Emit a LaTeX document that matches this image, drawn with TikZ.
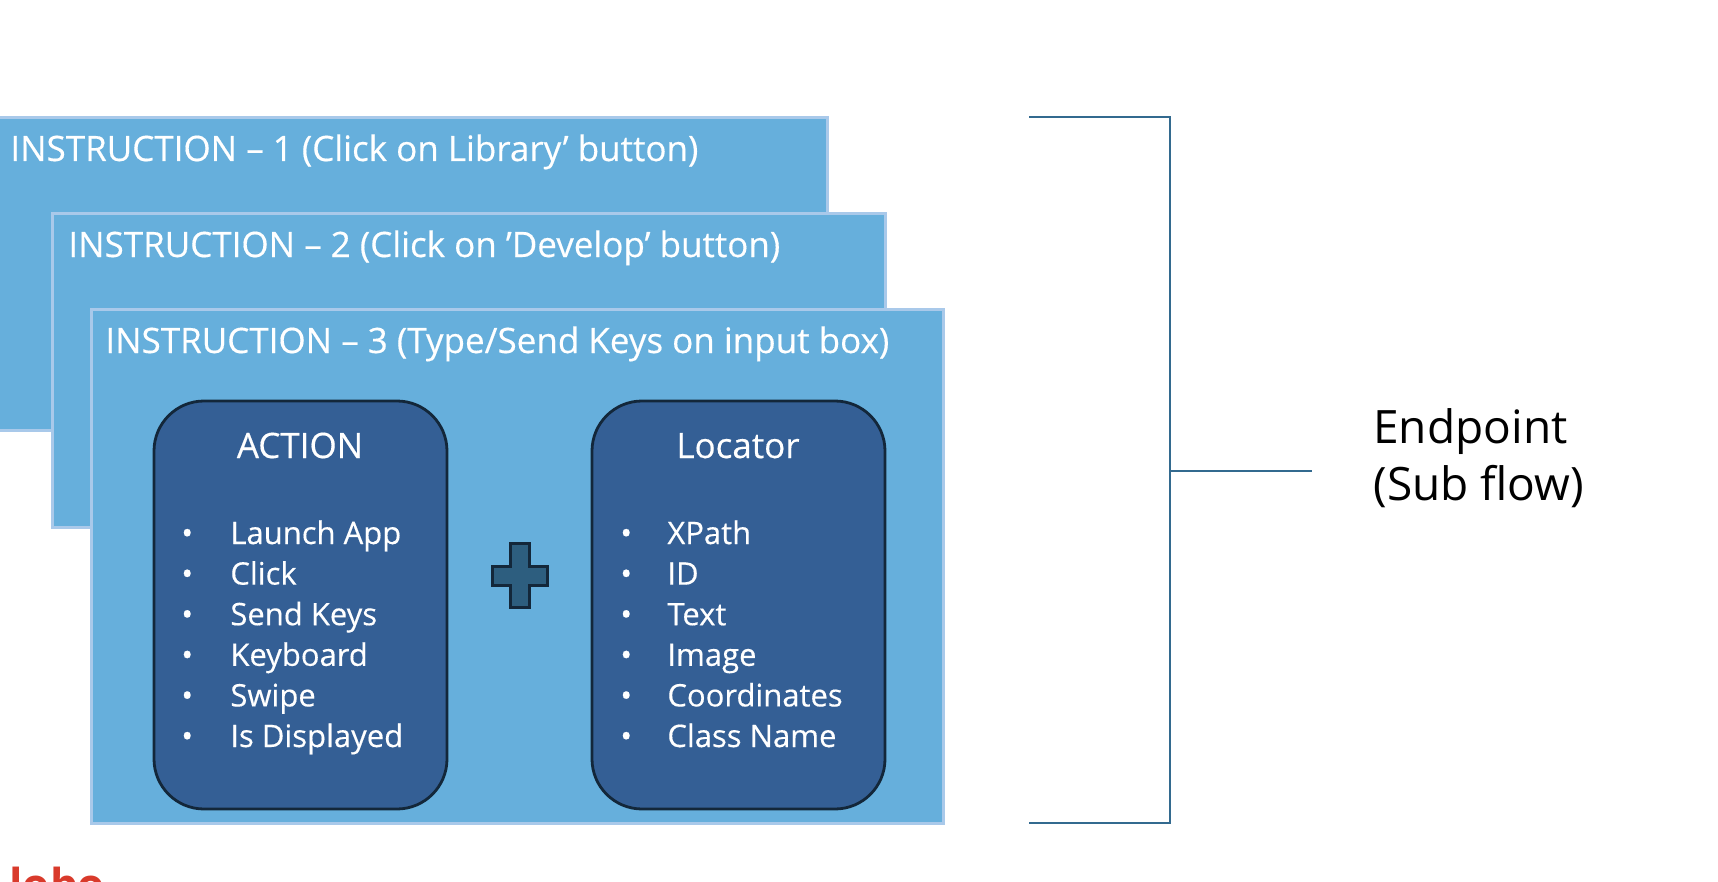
\documentclass[tikz,border=0pt]{standalone}
\usepackage{fontspec}
\setmainfont{Open Sans}
\newfontfamily\boxfont{Open Sans}[FakeBold=0.35]
\definecolor{boxfill}{HTML}{66AFDC}
\definecolor{boxline}{HTML}{A9C9EA}
\definecolor{innerfill}{HTML}{345F95}
\definecolor{innerline}{HTML}{13273A}
\definecolor{plusfill}{HTML}{2D5E7F}
\definecolor{brack}{HTML}{336A8F}
\definecolor{logored}{HTML}{D93A2B}
\tikzset{
  instr/.style={draw=boxline, line width=1.5pt, fill=boxfill},
  instrtext/.style={anchor=base west, inner sep=0pt, text=white, font=\boxfont\fontsize{17.5pt}{21pt}\selectfont},
  inner/.style={draw=innerline, line width=1.4pt, fill=innerfill, rounded corners=25pt},
  titletext/.style={anchor=base, inner sep=0pt, text=white, font=\boxfont\fontsize{17.5pt}{21pt}\selectfont},
  itemtext/.style={anchor=base west, inner sep=0pt, text=white, font=\boxfont\fontsize{15.5pt}{19pt}\selectfont},
  bracketline/.style={draw=brack, line width=1.4pt},
}
\begin{document}
\begin{tikzpicture}[x=0.5pt, y=-0.5pt]
\useasboundingbox (0,0) rectangle (1718,882);
\clip (0,0) rectangle (1718,882);
\fill[white] (0,0) rectangle (1718,882);
% instruction boxes
\draw[instr] (-10,117.5) rectangle (827,430) coordinate (b1se);
\node[instrtext] (t1) at (10,161) {INSTRUCTION – 1 (Click on Library’ button)};
\draw[instr] (52.5,213.5) rectangle (885,527) coordinate (b2se);
\node[instrtext] (t2) at (68,257) {INSTRUCTION – 2 (Click on ’Develop’ button)};
\draw[instr] (91.5,309.5) rectangle (943,823) coordinate (b3se);
\node[instrtext] (t3) at (105,353) {INSTRUCTION – 3 (Type/Send Keys on input box)};
% inner boxes
\draw[inner] (154,401) rectangle (447,809);
\draw[inner] (592,401) rectangle (885,809);
\node[titletext] (act) at (300,458) {ACTION};
\node[titletext] (loc) at (738,458) {Locator};
\foreach \t [count=\i] in {Launch App, Click, Send Keys, Keyboard, Swipe, Is Displayed}{
  \node[itemtext] (ab\i) at (181,503.4+40.6*\i) {•};
  \node[itemtext] (a\i) at (230,503.4+40.6*\i) {\t};
}
\foreach \t [count=\i] in {XPath, ID, Text, Image, Coordinates, Class Name}{
  \node[itemtext] (lb\i) at (620,503.4+40.6*\i) {•};
  \node[itemtext] (l\i) at (667,503.4+40.6*\i) {\t};
}
% plus
\draw[draw=innerline, line width=1.5pt, fill=plusfill]
  (510,543) -- (529,543) -- (529,566) -- (547,566) -- (547,585) -- (529,585)
  -- (529,607) -- (510,607) -- (510,585) -- (492,585) -- (492,566) -- (510,566) -- cycle;
% bracket
\coordinate (bt) at (1029,117);
\coordinate (bb) at (1029,823);
\coordinate (bm) at (1170,471);
\node[anchor=base west, inner sep=0pt, font=\fontsize{23pt}{28pt}\selectfont] (ep) at (1373,443) {Endpoint};
\node[anchor=base west, inner sep=0pt, font=\fontsize{23pt}{28pt}\selectfont] (sf) at (1373,500) {(Sub flow)};
\draw[bracketline] (bt) -- (bt -| bm) -- (bb -| bm) -- (bb);
\draw[bracketline] (bm) -- (1312,471) coordinate (bend);
% partial logo text, cut off by the lower edge as in the reference
\node[anchor=base west, inner sep=0pt, text=logored, font=\fontsize{22pt}{26pt}\selectfont\bfseries] (logo) at (9,900) {lobo};
\end{tikzpicture}
\end{document}
